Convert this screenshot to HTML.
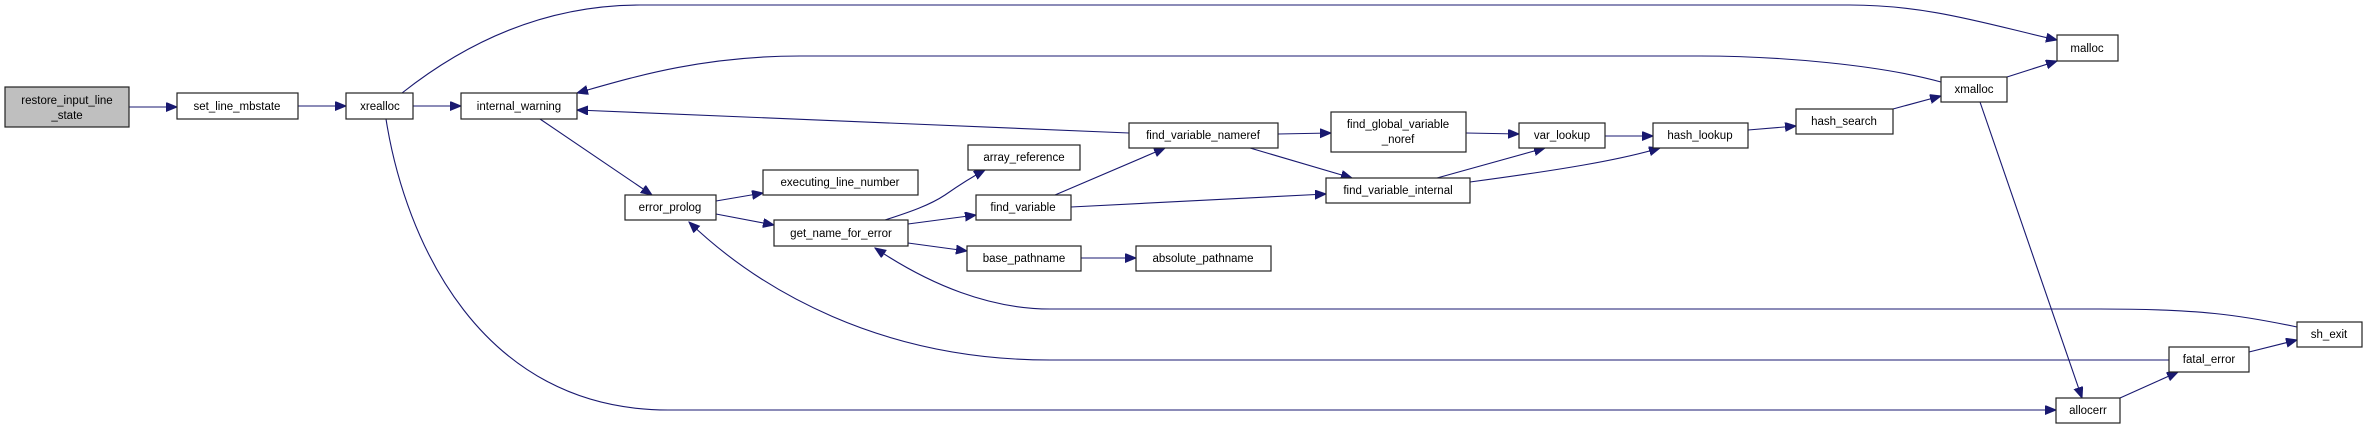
<!DOCTYPE html>
<html><head><meta charset="utf-8"><style>
html,body{margin:0;padding:0;background:#fff;}
svg{display:block;}
text{font-family:"Liberation Sans",sans-serif;font-size:11.5px;fill:#000;text-anchor:middle;}
rect{fill:#fff;stroke:#222;stroke-width:1.2;}
path{fill:none;stroke:#191970;stroke-width:1.1;}
</style></head><body>
<svg width="2363" height="429" viewBox="0 0 2363 429" xmlns="http://www.w3.org/2000/svg">
<defs>
<marker id="a" markerUnits="userSpaceOnUse" markerWidth="12" markerHeight="10" refX="11" refY="4.5" orient="auto">
<path d="M0,0 L11,4.5 L0,9 Z" style="fill:#191970;stroke:#191970;stroke-width:1"/>
</marker>
</defs>
<g marker-end="url(#a)">
<path d="M129,107 L177,107"/>
<path d="M298,106 L346,106"/>
<path d="M413,106 L461,106"/>
<path d="M402,93 C450,55 530,5 640,5 L1850,5 C1930,5 1990,25 2057,40"/>
<path d="M386,119 C405,240 480,410 668,410 L2056,410"/>
<path d="M540,119 L652,195"/>
<path d="M1941,82 C1880,65 1780,56 1700,56 L800,56 C700,56 630,78 577,93"/>
<path d="M1129,133 L577,110"/>
<path d="M716,201 L763,193"/>
<path d="M716,214 L774,225"/>
<path d="M885,220 C910,212 930,205 945,195 C955,188 970,178 985,170"/>
<path d="M908,224 L976,215"/>
<path d="M908,243 L967,251"/>
<path d="M1081,258 L1136,258"/>
<path d="M1055,195 L1165,148"/>
<path d="M1071,207 L1326,194"/>
<path d="M1278,134 L1331,133"/>
<path d="M1250,148 L1352,178"/>
<path d="M1466,133 L1519,134"/>
<path d="M1437,178 L1545,148"/>
<path d="M1470,182 C1560,170 1620,160 1660,148"/>
<path d="M1605,136 L1653,136"/>
<path d="M1748,130 L1796,126"/>
<path d="M1893,109 L1941,96"/>
<path d="M2007,77 L2057,61"/>
<path d="M1980,102 L2082,398"/>
<path d="M2120,398 L2178,372"/>
<path d="M2249,352 L2297,340"/>
<path d="M2169,360 L1050,360 C880,360 760,290 689,222"/>
<path d="M2297,327 C2240,315 2200,309 2100,309 L1050,309 C990,309 930,285 875,248"/>
</g>
<rect x="5" y="87" width="124" height="40" style="fill:#bfbfbf"/>
<text x="67" y="104">restore_input_line</text><text x="67" y="119">_state</text>
<rect x="177" y="93" width="121" height="26"/><text x="237" y="110">set_line_mbstate</text>
<rect x="346" y="93" width="67" height="26"/><text x="380" y="110">xrealloc</text>
<rect x="461" y="93" width="116" height="26"/><text x="519" y="110">internal_warning</text>
<rect x="625" y="195" width="91" height="25"/><text x="670" y="211">error_prolog</text>
<rect x="763" y="170" width="155" height="25"/><text x="840" y="186">executing_line_number</text>
<rect x="774" y="220" width="134" height="26"/><text x="841" y="237">get_name_for_error</text>
<rect x="968" y="145" width="112" height="25"/><text x="1024" y="161">array_reference</text>
<rect x="976" y="195" width="95" height="25"/><text x="1023" y="211">find_variable</text>
<rect x="967" y="246" width="114" height="25"/><text x="1024" y="262">base_pathname</text>
<rect x="1136" y="246" width="135" height="25"/><text x="1203" y="262">absolute_pathname</text>
<rect x="1129" y="123" width="149" height="25"/><text x="1203" y="139">find_variable_nameref</text>
<rect x="1331" y="112" width="135" height="40"/><text x="1398" y="128">find_global_variable</text><text x="1398" y="143">_noref</text>
<rect x="1326" y="178" width="144" height="25"/><text x="1398" y="194">find_variable_internal</text>
<rect x="1519" y="123" width="86" height="25"/><text x="1562" y="139">var_lookup</text>
<rect x="1653" y="123" width="95" height="25"/><text x="1700" y="139">hash_lookup</text>
<rect x="1796" y="109" width="97" height="25"/><text x="1844" y="125">hash_search</text>
<rect x="1941" y="77" width="66" height="25"/><text x="1974" y="93">xmalloc</text>
<rect x="2057" y="35" width="61" height="26"/><text x="2087" y="52">malloc</text>
<rect x="2297" y="322" width="65" height="25"/><text x="2329" y="338">sh_exit</text>
<rect x="2169" y="347" width="80" height="25"/><text x="2209" y="363">fatal_error</text>
<rect x="2056" y="398" width="64" height="25"/><text x="2088" y="414">allocerr</text>
</svg>
</body></html>
